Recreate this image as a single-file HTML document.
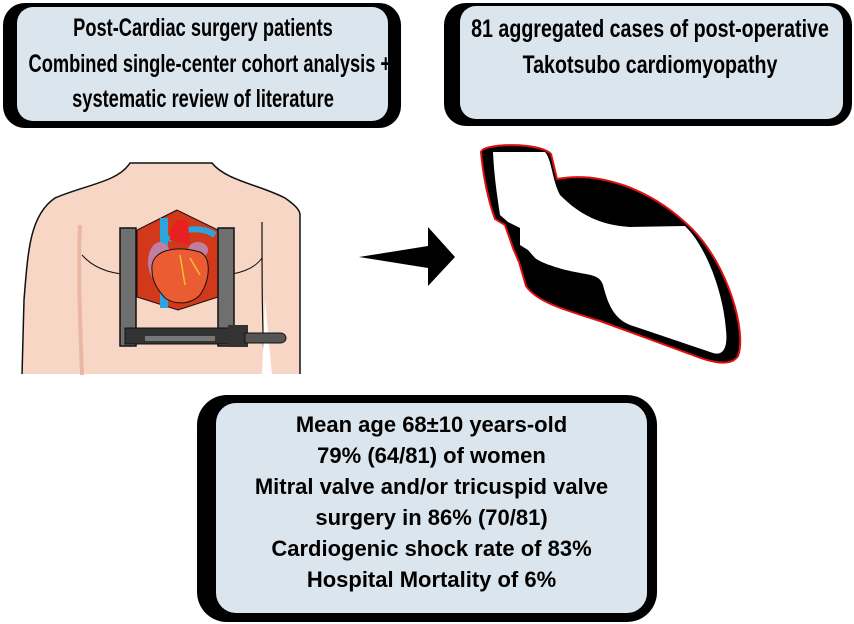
<!DOCTYPE html>
<html><head><meta charset="utf-8"><style>
html,body{margin:0;padding:0;background:#fff;}
body{width:854px;height:624px;position:relative;overflow:hidden;font-family:"Liberation Sans",Arial,sans-serif;}
.o{position:absolute;background:#000;border-radius:22px;}
.i{position:absolute;background:#dbe5ed;border-radius:16px;}
.t{position:absolute;text-align:center;font-weight:bold;color:#000;white-space:nowrap;}
.n{font-size:25px;line-height:35.5px;transform-origin:center top;}
.b{font-size:22px;line-height:31px;}
</style></head><body>
<div class="o" style="left:3px;top:3px;width:398px;height:125px;"></div>
<div class="i" style="left:17px;top:7px;width:371px;height:114px;"></div>
<div class="t n" style="left:-36px;top:11px;width:478px;transform:scaleX(0.73);">Post-Cardiac surgery patients<br>Combined single-center cohort analysis +<br>systematic review of literature</div>

<div class="o" style="left:444px;top:3px;width:408px;height:123px;"></div>
<div class="i" style="left:460px;top:6px;width:383px;height:113px;"></div>
<div class="t n" style="left:410px;top:12px;width:480px;transform:scaleX(0.785);">81 aggregated cases of post-operative<br>Takotsubo cardiomyopathy</div>

<div class="o" style="left:197px;top:395px;width:460px;height:227px;border-radius:30px;"></div>
<div class="i" style="left:216px;top:403px;width:431px;height:210px;border-radius:20px;"></div>
<div class="t b" style="left:216px;top:409px;width:431px;">Mean age 68±10 years-old<br>79% (64/81) of women<br>Mitral valve and/or tricuspid valve<br>surgery in 86% (70/81)<br>Cardiogenic shock rate of 83%<br>Hospital Mortality of 6%</div>

<svg style="position:absolute;left:0;top:0" width="854" height="624">
<path d="M22,375 L24,300 C28,250 30,215 55,198 C85,185 118,182 130,163 L212,163 C225,180 260,185 285,198 C295,205 300,210 300,215 L300,375 Z" fill="#f8d6c5" stroke="#111" stroke-width="1.5"/>
<rect x="0" y="374" width="310" height="6" fill="#fff"/>
<path d="M80,225 C78,270 80,320 82,375" stroke="#e8b8a5" stroke-width="4" fill="none"/>
<path d="M262,222 C262,280 262,330 265,375" stroke="#111" stroke-width="1.2" fill="none"/>
<path d="M82,255 C95,270 115,275 137,275" stroke="#111" stroke-width="1" fill="none"/>
<path d="M218,275 C240,275 255,268 262,258" stroke="#111" stroke-width="1" fill="none"/>
<path d="M265,300 L262,375 L272,375 Z" fill="#fff"/>
<polygon points="177,210 137,230 137,297 178,310 218,297 218,230" fill="#d2391a" stroke="#111" stroke-width="1"/>
<rect x="160" y="218" width="8" height="90" fill="#2ea4dc"/>
<path d="M168,240 C185,225 205,228 215,235" stroke="#2ea4dc" stroke-width="6" fill="none"/>
<path d="M170,240 C168,225 178,215 188,222 L190,245 Z" fill="#e82020"/>
<ellipse cx="160" cy="262" rx="12" ry="20" fill="#c07ea0"/>
<ellipse cx="198" cy="250" rx="10" ry="8" fill="#c07ea0"/>
<path d="M152,270 C150,250 175,245 200,252 C212,258 210,280 200,295 C190,305 175,305 165,298 C158,290 152,282 152,270 Z" fill="#ec5c32" stroke="#111" stroke-width="1"/>
<path d="M180,255 L185,285 M190,258 L200,275" stroke="#f0c030" stroke-width="1.5" fill="none"/>
<rect x="120" y="228" width="16" height="118" fill="#6f6f6f" stroke="#111" stroke-width="1.5"/>
<rect x="218" y="228" width="16" height="118" fill="#6f6f6f" stroke="#111" stroke-width="1.5"/>
<rect x="125" y="328" width="122" height="16" fill="#333" stroke="#111"/>
<rect x="145" y="336" width="70" height="5" fill="#777"/>
<rect x="228" y="325" width="20" height="22" fill="#333"/>
<path d="M245,333 L280,333 C288,333 288,343 280,343 L245,343 Z" fill="#555" stroke="#111"/>
<polygon points="359,257 428,246 428,227 455,257 428,286 428,268" fill="#000"/>
<path d="M481,152 C483,143 540,142 551,154 L557,179 C600,171 652,189 692,229 C728,265 747,332 738,356 C731,367 712,363 690,354 L600,321 C561,309 536,301 526,286 L519,262 L513,248 L505,225 L495,219 C488,200 483,175 481,152 Z" fill="#000" stroke="#e01010" stroke-width="2"/>
<path d="M493,152 L545,152 C552,160 552,180 560,195 C580,215 600,225 630,227 L685,226 C705,245 723,290 726,330 C728,348 723,356 713,353 L630,325 C612,318 607,300 603,285 C600,275 590,275 575,272 C555,268 540,262 535,258 L528,250 L520,245 L520,228 L508,222 L500,215 C497,195 494,175 493,152 Z" fill="#fff"/>
</svg>
</body></html>
